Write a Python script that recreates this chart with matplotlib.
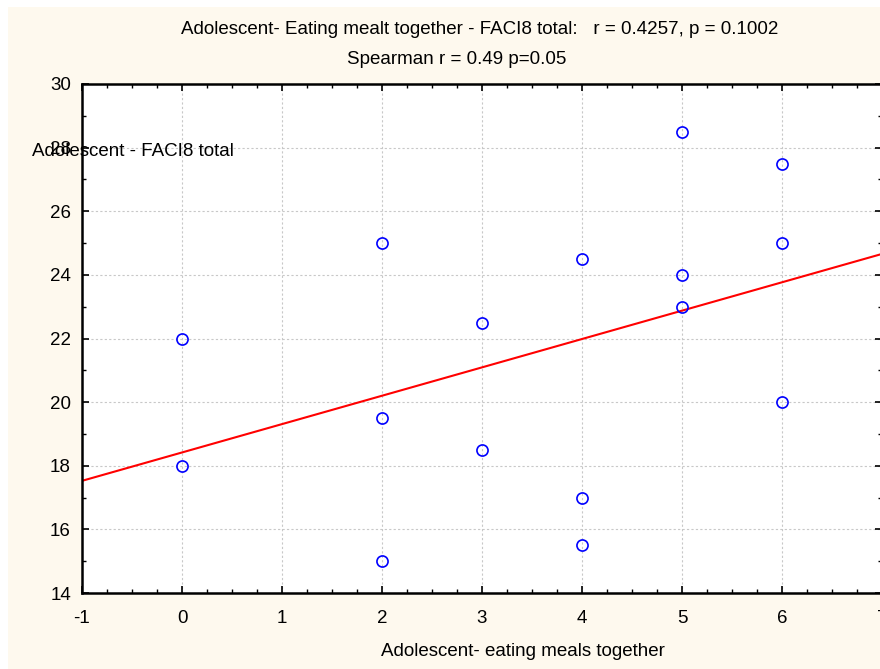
import matplotlib.pyplot as plt
import numpy as np
from matplotlib.patches import Rectangle

plt.rcParams['font.family'] = ['Liberation Sans', 'DejaVu Sans']
plt.rcParams['axes.unicode_minus'] = False

# data
meals = [0, 0, 2, 2, 2, 3, 3, 4, 4, 4, 5, 5, 5, 6, 6, 6]
faci8 = [22, 18, 25, 19.5, 15, 22.5, 18.5, 24.5, 17, 15.5, 28.5, 24, 23, 27.5, 25, 20]
xticks = [-1, 0, 1, 2, 3, 4, 5, 6, 7]
yticks = [14, 16, 18, 20, 22, 24, 26, 28, 30]

fs = 13.5

fig = plt.figure(figsize=(8.8, 6.69), dpi=100)
fig.patch.set_facecolor('white')
fig.patches.append(Rectangle((8/880, 0), 1, (669-7)/669, transform=fig.transFigure,
                             facecolor='#FEF9EE', edgecolor='none', zorder=-10))

ax = fig.add_axes([82/880, (669-593)/669, 800/880, 509/669])
ax.set_facecolor('white')

# linear fit
b, a = np.polyfit(meals, faci8, 1)
xl = np.array([-1, 7])
ax.plot(xl, a + b*xl, color='red', lw=1.5, zorder=2)
ax.plot(meals, faci8, 'o', mfc='none', mec='blue', ms=8, mew=1.2, zorder=3)

ax.set_xlim(-1, 7)
ax.set_ylim(14, 30)
ax.set_xticks(xticks)
ax.set_yticks(yticks)
ax.set_xticks(np.arange(-1, 7.01, 0.25), minor=True)
ax.set_yticks(np.arange(14, 30.01, 1), minor=True)
ax.grid(True, which='major', ls=(0, (2, 2)), color='#c8c8c8', lw=0.8)
ax.tick_params(which='both', direction='in', top=True, right=True, labelsize=fs, color='black')
ax.tick_params(which='major', length=5, width=1.2)
ax.tick_params(axis='x', which='major', pad=12)
ax.tick_params(axis='y', which='major', pad=8)
ax.tick_params(which='minor', length=3, width=1.0)
for s in ax.spines.values():
    s.set_linewidth(1.8)
    s.set_clip_on(False)

fig.text(480/880, 1 - 30/669, 'Adolescent- Eating mealt together - FACI8 total:   r = 0.4257, p = 0.1002',
         ha='center', va='center', fontsize=fs)
fig.text(457/880, 1 - 59/669, 'Spearman r = 0.49 p=0.05', ha='center', va='center', fontsize=fs)
fig.text(32/880, 1 - 152/669, 'Adolescent - FACI8 total', ha='left', va='center', fontsize=fs)
fig.text(523/880, 1 - 651/669, 'Adolescent- eating meals together', ha='center', va='center', fontsize=fs)

fig.savefig('out.png', dpi=100, facecolor=fig.get_facecolor())
